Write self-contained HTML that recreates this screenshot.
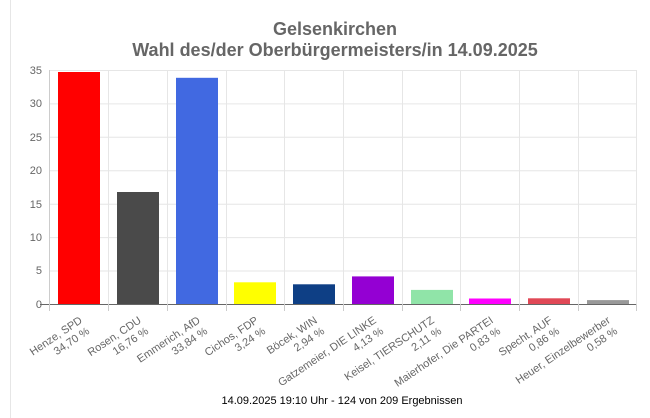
<!DOCTYPE html>
<html><head><meta charset="utf-8"><style>
html,body{margin:0;padding:0;background:#fff;}
svg{display:block;font-family:"Liberation Sans",Arial,sans-serif;}
</style></head><body>
<svg width="650" height="418" viewBox="0 0 650 418" xmlns="http://www.w3.org/2000/svg">
<rect width="650" height="418" fill="#fff"/>
<line x1="10.5" y1="0" x2="10.5" y2="418" stroke="#e6e6e6"/>
<text x="335" y="35" text-anchor="middle" font-size="18" font-weight="bold" fill="#666">Gelsenkirchen</text>
<text x="335" y="56" text-anchor="middle" font-size="18" font-weight="bold" fill="#666">Wahl des/der Oberbürgermeisters/in 14.09.2025</text>
<g stroke="#e6e6e6" stroke-width="1">
<line x1="49" y1="70.5" x2="637" y2="70.5"/>
<line x1="49" y1="103.9" x2="637" y2="103.9"/>
<line x1="49" y1="137.3" x2="637" y2="137.3"/>
<line x1="49" y1="170.8" x2="637" y2="170.8"/>
<line x1="49" y1="204.2" x2="637" y2="204.2"/>
<line x1="49" y1="237.6" x2="637" y2="237.6"/>
<line x1="49" y1="271" x2="637" y2="271"/>
<line x1="108.5" y1="70" x2="108.5" y2="304"/>
<line x1="167.5" y1="70" x2="167.5" y2="304"/>
<line x1="226.5" y1="70" x2="226.5" y2="304"/>
<line x1="284.5" y1="70" x2="284.5" y2="304"/>
<line x1="343.5" y1="70" x2="343.5" y2="304"/>
<line x1="402.5" y1="70" x2="402.5" y2="304"/>
<line x1="460.5" y1="70" x2="460.5" y2="304"/>
<line x1="519.5" y1="70" x2="519.5" y2="304"/>
<line x1="578.5" y1="70" x2="578.5" y2="304"/>
<line x1="636.5" y1="70" x2="636.5" y2="304"/>
</g>
<line x1="49.5" y1="70" x2="49.5" y2="304" stroke="#ccc"/>
<g font-size="11" fill="#666" text-anchor="end">
<text x="42" y="74">35</text><text x="42" y="107">30</text><text x="42" y="141">25</text>
<text x="42" y="174">20</text><text x="42" y="208">15</text><text x="42" y="241">10</text>
<text x="42" y="274">5</text><text x="42" y="308">0</text>
</g>
<rect x="58" y="72" width="42" height="232" fill="#ff0000"/>
<rect x="117" y="192" width="42" height="112" fill="#4a4a4a"/>
<rect x="176" y="77.8" width="42" height="226.2" fill="#4169e1"/>
<rect x="234" y="282.3" width="42" height="21.7" fill="#ffff00"/>
<rect x="293" y="284.3" width="42" height="19.7" fill="#0e3f85"/>
<rect x="352" y="276.4" width="42" height="27.6" fill="#9400d3"/>
<rect x="411" y="289.9" width="42" height="14.1" fill="#90e4a8"/>
<rect x="469" y="298.5" width="42" height="5.5" fill="#ff00ff"/>
<rect x="528" y="298.3" width="42" height="5.7" fill="#e04856"/>
<rect x="587" y="300.1" width="42" height="3.9" fill="#999"/>
<line x1="40" y1="304.5" x2="637" y2="304.5" stroke="#666"/>
<g stroke="#ccc">
<line x1="49.5" y1="304" x2="49.5" y2="311"/><line x1="108.5" y1="304" x2="108.5" y2="311"/>
<line x1="167.5" y1="304" x2="167.5" y2="311"/><line x1="226.5" y1="304" x2="226.5" y2="311"/>
<line x1="284.5" y1="304" x2="284.5" y2="311"/><line x1="343.5" y1="304" x2="343.5" y2="311"/>
<line x1="402.5" y1="304" x2="402.5" y2="311"/><line x1="460.5" y1="304" x2="460.5" y2="311"/>
<line x1="519.5" y1="304" x2="519.5" y2="311"/><line x1="578.5" y1="304" x2="578.5" y2="311"/>
<line x1="636.5" y1="304" x2="636.5" y2="311"/>
</g>
<g font-size="11" fill="#666" text-anchor="end">
<g transform="translate(83,322) rotate(-34)"><text x="0" y="0">Henze, SPD</text><text x="0" y="13">34,70 %</text></g>
<g transform="translate(142,322) rotate(-34)"><text x="0" y="0">Rosen, CDU</text><text x="0" y="13">16,76 %</text></g>
<g transform="translate(201,322) rotate(-34)"><text x="0" y="0">Emmerich, AfD</text><text x="0" y="13">33,84 %</text></g>
<g transform="translate(259,322) rotate(-34)"><text x="0" y="0">Cichos, FDP</text><text x="0" y="13">3,24 %</text></g>
<g transform="translate(318,322) rotate(-34)"><text x="0" y="0">Böcek, WIN</text><text x="0" y="13">2,94 %</text></g>
<g transform="translate(377,322) rotate(-34)"><text x="0" y="0">Gatzemeier, DIE LINKE</text><text x="0" y="13">4,13 %</text></g>
<g transform="translate(435,322) rotate(-34)"><text x="0" y="0">Keisel, TIERSCHUTZ</text><text x="0" y="13">2,11 %</text></g>
<g transform="translate(494,322) rotate(-34)"><text x="0" y="0">Maierhofer, Die PARTEI</text><text x="0" y="13">0,83 %</text></g>
<g transform="translate(553,322) rotate(-34)"><text x="0" y="0">Specht, AUF</text><text x="0" y="13">0,86 %</text></g>
<g transform="translate(611,322) rotate(-34)"><text x="0" y="0">Heuer, Einzelbewerber</text><text x="0" y="13">0,58 %</text></g>
</g>
<text x="342" y="404" text-anchor="middle" font-size="11" fill="#000">14.09.2025 19:10 Uhr - 124 von 209 Ergebnissen</text>
</svg>
</body></html>
